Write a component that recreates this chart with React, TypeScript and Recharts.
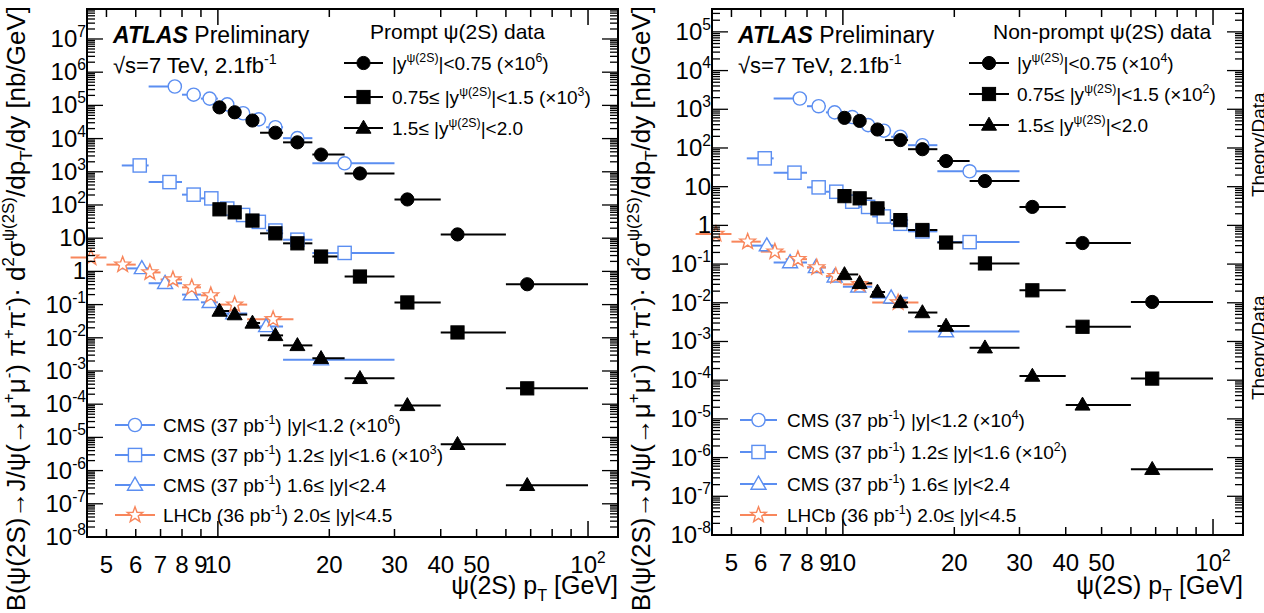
import { ScatterChart, Scatter, XAxis, YAxis, ErrorBar } from 'recharts';

const FONT = '"Liberation Sans", Arial, Helvetica, sans-serif';
const BLUE = '#5b8ef1';
const ORANGE = '#f8865b';
const BLACK = '#000';

// x axis (pT, GeV)
const X_DOMAIN = [4.43, 120.5];
const xTickValues = [5, 6, 7, 8, 9, 10, 20, 30, 40, 50, 60, 70, 80, 90, 100];
const xTickLabels = ['5', '6', '7', '8', '9', '10', '20', '30', '40', '50', '', '', '', '', '10^{2}'];

// y axis decades
const promptDecades = [-8, -7, -6, -5, -4, -3, -2, -1, 0, 1, 2, 3, 4, 5, 6, 7];
const nonpromptDecades = [-8, -7, -6, -5, -4, -3, -2, -1, 0, 1, 2, 3, 4, 5];

// ATLAS bins
const atlasBinLo = [10, 11, 12, 13, 15, 18, 22, 30, 40, 60];
const atlasBinHi = [11, 12, 13, 15, 18, 22, 30, 40, 60, 100];
const atlasPt = [10.1, 11.1, 12.4, 14.3, 16.4, 19.0, 24.2, 32.5, 44.4, 68.5];

// ATLAS prompt
const promptCentral = [8.7e4, 6.2e4, 3.5e4, 1.5e4, 7.7e3, 3.3e3, 890, 147, 13, 0.41];
const promptMid = [74, 60, 34, 14, 7, 2.8, 0.7, 0.116, 0.0145, 3.0e-4];
const promptFwd = [0.064, 0.05, 0.028, 0.0118, 5.9e-3, 2.4e-3, 6e-4, 9.2e-5, 6.2e-6, 3.6e-7];

// ATLAS non-prompt
const nonpromptCentral = [600, 500, 300, 160, 93, 46, 14, 3.0, 0.35, 0.0105];
const nonpromptMid = [5.7, 5.0, 2.75, 1.37, 0.76, 0.36, 0.104, 0.021, 2.4e-3, 1.1e-4];
const nonpromptFwd = [0.054, 0.032, 0.019, 0.0102, 5.6e-3, 2.5e-3, 6.9e-4, 1.28e-4, 2.3e-5, 5e-7];

// CMS |y|<1.2
const cmsCentralLo = [6.5, 8, 9, 10, 11, 12, 13.5, 15, 18];
const cmsCentralHi = [8, 9, 10, 11, 12, 13.5, 15, 18, 30];
const cmsCentralPt = [7.65, 8.6, 9.5, 10.6, 11.7, 12.9, 14.3, 16.4, 22];
const promptCmsCentral = [3.7e5, 2.1e5, 1.6e5, 1.07e5, 5.8e4, 3.8e4, 2.2e4, 1.03e4, 1.8e3];
const nonpromptCmsCentral = [1900, 1200, 830, 630, 390, 280, 195, 118, 25];

// CMS 1.2<|y|<1.6
const cmsMidLo = [5.5, 6.5, 8, 9, 10, 11, 12, 13.5, 15, 18];
const cmsMidHi = [6.5, 8, 9, 10, 11, 12, 13.5, 15, 18, 30];
const cmsMidPt = [6.15, 7.4, 8.6, 9.6, 10.6, 11.7, 12.9, 14.3, 16.4, 22];
const promptCmsMid = [1550, 490, 205, 158, 78, 50, 31, 17, 9, 3.6];
const nonpromptCmsMid = [54, 23, 9.6, 7.4, 4.1, 3.0, 1.7, 1.1, 0.7, 0.37];

// CMS 1.6<|y|<2.4
const cmsFwdLo = [5.5, 6.5, 8, 9, 10, 12, 15];
const cmsFwdHi = [6.5, 8, 9, 10, 12, 15, 30];
const cmsFwdPt = [6.23, 7.2, 8.45, 9.5, 11, 13.5, 19];
const promptCmsFwd = [1.23, 0.44, 0.2, 0.117, 0.054, 0.022, 0.0022];
const nonpromptCmsFwd = [0.3, 0.11, 0.082, 0.047, 0.026, 0.0135, 1.8e-3];

// LHCb 2.0<y<4.5
const lhcbLo = [4, 5, 6, 7, 8, 9, 10, 12];
const lhcbHi = [5, 6, 7, 8, 9, 10, 12, 16];
const lhcbPt = [4.54, 5.53, 6.55, 7.56, 8.5, 9.57, 11.1, 14.1];
const promptLhcb = [2.6, 1.6, 0.93, 0.57, 0.33, 0.19, 0.1, 0.036];
const nonpromptLhcb = [0.6, 0.38, 0.21, 0.134, 0.082, 0.049, 0.03, 0.0102];

const rows = (pt: number[], y: number[], lo: number[], hi: number[]) =>
  pt.map((x, i) => ({ x, y: y[i], ex: [x - lo[i], hi[i] - x] }));

type Kind = 'circle' | 'square' | 'triangle' | 'star';

function Marker({ kind, cx, cy, color, open }: { kind: Kind; cx: number; cy: number; color: string; open?: boolean }) {
  const fill = open ? '#fff' : color;
  const sw = open ? 1.4 : 1;
  if (kind === 'circle') return <circle cx={cx} cy={cy} r={6.6} fill={fill} stroke={color} strokeWidth={sw} />;
  if (kind === 'square') return <rect x={cx - 6.6} y={cy - 6.6} width={13.2} height={13.2} fill={fill} stroke={color} strokeWidth={sw} />;
  if (kind === 'triangle')
    return <path d={`M${cx},${cy - 7.8}L${cx + 7.5},${cy + 5.2}L${cx - 7.5},${cy + 5.2}Z`} fill={fill} stroke={color} strokeWidth={sw} />;
  const pts: string[] = [];
  for (let k = 0; k < 10; k++) {
    const r = k % 2 === 0 ? 8.2 : 3.4;
    const a = -Math.PI / 2 + (k * Math.PI) / 5;
    pts.push(`${cx + r * Math.cos(a)},${cy + r * Math.sin(a)}`);
  }
  return <polygon points={pts.join(' ')} fill={fill} stroke={color} strokeWidth={sw} />;
}

type Seg = { t: string; k: number };
function parse(s: string): Seg[] {
  const out: Seg[] = [];
  let buf = '';
  let i = 0;
  while (i < s.length) {
    const c = s[i];
    if ((c === '^' || c === '_') && s[i + 1] === '{') {
      if (buf) out.push({ t: buf, k: 0 });
      buf = '';
      const j = s.indexOf('}', i);
      out.push({ t: s.slice(i + 2, j), k: c === '^' ? 1 : -1 });
      i = j + 1;
    } else {
      buf += c;
      i++;
    }
  }
  if (buf) out.push({ t: buf, k: 0 });
  return out;
}

function Rich({ x, y, text, size, anchor = 'start', rotate = false, family = FONT }: any) {
  let cur = 0;
  return (
    <text
      x={x}
      y={y}
      fontSize={size}
      fontFamily={family}
      textAnchor={anchor}
      fill="#000"
      style={{ whiteSpace: 'pre' }}
      transform={rotate ? `rotate(-90 ${x} ${y})` : undefined}
    >
      {parse(text).map((s, i) => {
        const target = s.k === 1 ? -0.42 * size : s.k === -1 ? 0.28 * size : 0;
        const d = target - cur;
        cur = target;
        return (
          <tspan key={i} dy={d} fontSize={s.k ? size * 0.65 : size}>
            {s.t}
          </tspan>
        );
      })}
    </text>
  );
}

const logTicks = (decades: number[], max: number) => {
  const t: number[] = [];
  decades.forEach((e) => {
    for (let m = 1; m <= 9; m++) {
      const v = m * Math.pow(10, e);
      if (v <= max) t.push(v);
    }
  });
  return t;
};

const yLabel = (v: number) => {
  const e = Math.round(Math.log10(v));
  if (Math.abs(v / Math.pow(10, e) - 1) > 1e-6) return '';
  if (e === 0) return '1';
  if (e === 1) return '10';
  return `10^{${e}}`;
};

const makeXTick = (top: number) => (props: any) => {
  const { x, y, payload } = props;
  const v = payload.value;
  const idx = xTickValues.indexOf(v);
  const major = v === 10 || v === 100;
  const len = major ? 16 : 8;
  const label = idx >= 0 ? xTickLabels[idx] : '';
  return (
    <g>
      <line x1={x} x2={x} y1={y} y2={y - len} stroke="#000" strokeWidth={1.5} />
      <line x1={x} x2={x} y1={top} y2={top + len} stroke="#000" strokeWidth={1.5} />
      {label && <Rich x={x} y={y + 36} text={label} size={24} anchor="middle" />}
    </g>
  );
};

const makeYTick = (right: number) => (props: any) => {
  const { x, y, payload } = props;
  const label = yLabel(payload.value);
  const len = label ? 16 : 8;
  return (
    <g>
      <line x1={x} x2={x + len} y1={y} y2={y} stroke="#000" strokeWidth={1.3} />
      <line x1={right} x2={right - len} y1={y} y2={y} stroke="#000" strokeWidth={1.3} />
      {label && <Rich x={x - 1} y={y + 8} text={label} size={24} anchor="end" />}
    </g>
  );
};

type Series = { name: string; data: any[]; kind: Kind; color: string; open?: boolean };

function Panel({ width, yAxisWidth, marginRight, xAxisHeight, yMax, decades, series }: any) {
  const right = width - marginRight;
  return (
    <ScatterChart width={width} height={613} margin={{ top: 9, right: marginRight, bottom: 0, left: 0 }}>
      <XAxis
        type="number"
        dataKey="x"
        scale="log"
        domain={X_DOMAIN}
        allowDataOverflow
        ticks={xTickValues}
        interval={0}
        tickSize={0}
        tickMargin={0}
        height={xAxisHeight}
        tickLine={false}
        axisLine={false}
        tick={makeXTick(9)}
      />
      <YAxis
        type="number"
        dataKey="y"
        scale="log"
        domain={[1e-8, yMax]}
        allowDataOverflow
        ticks={logTicks(decades, yMax)}
        interval={0}
        tickSize={0}
        tickMargin={0}
        width={yAxisWidth}
        tickLine={false}
        axisLine={false}
        tick={makeYTick(right)}
      />
      {series.map((s: Series) => (
        <Scatter
          key={s.name}
          name={s.name}
          data={s.data}
          isAnimationActive={false}
          shape={(p: any) => <Marker kind={s.kind} cx={p.cx} cy={p.cy} color={s.color} open={s.open} />}
        >
          <ErrorBar dataKey="ex" direction="x" width={0} stroke={s.color} strokeWidth={2} />
        </Scatter>
      ))}
    </ScatterChart>
  );
}

const promptSeries: Series[] = [
  { name: 'cms0', data: rows(cmsCentralPt, promptCmsCentral, cmsCentralLo, cmsCentralHi), kind: 'circle', color: BLUE, open: true },
  { name: 'cms1', data: rows(cmsMidPt, promptCmsMid, cmsMidLo, cmsMidHi), kind: 'square', color: BLUE, open: true },
  { name: 'cms2', data: rows(cmsFwdPt, promptCmsFwd, cmsFwdLo, cmsFwdHi), kind: 'triangle', color: BLUE, open: true },
  { name: 'lhcb', data: rows(lhcbPt, promptLhcb, lhcbLo, lhcbHi), kind: 'star', color: ORANGE, open: true },
  { name: 'atlas0', data: rows(atlasPt, promptCentral, atlasBinLo, atlasBinHi), kind: 'circle', color: BLACK },
  { name: 'atlas1', data: rows(atlasPt, promptMid, atlasBinLo, atlasBinHi), kind: 'square', color: BLACK },
  { name: 'atlas2', data: rows(atlasPt, promptFwd, atlasBinLo, atlasBinHi), kind: 'triangle', color: BLACK },
];

const nonpromptSeries: Series[] = [
  { name: 'cms0', data: rows(cmsCentralPt, nonpromptCmsCentral, cmsCentralLo, cmsCentralHi), kind: 'circle', color: BLUE, open: true },
  { name: 'cms1', data: rows(cmsMidPt, nonpromptCmsMid, cmsMidLo, cmsMidHi), kind: 'square', color: BLUE, open: true },
  { name: 'cms2', data: rows(cmsFwdPt, nonpromptCmsFwd, cmsFwdLo, cmsFwdHi), kind: 'triangle', color: BLUE, open: true },
  { name: 'lhcb', data: rows(lhcbPt, nonpromptLhcb, lhcbLo, lhcbHi), kind: 'star', color: ORANGE, open: true },
  { name: 'atlas0', data: rows(atlasPt, nonpromptCentral, atlasBinLo, atlasBinHi), kind: 'circle', color: BLACK },
  { name: 'atlas1', data: rows(atlasPt, nonpromptMid, atlasBinLo, atlasBinHi), kind: 'square', color: BLACK },
  { name: 'atlas2', data: rows(atlasPt, nonpromptFwd, atlasBinLo, atlasBinHi), kind: 'triangle', color: BLACK },
];

const Y_TITLE = 'B(ψ(2S)→J/ψ(→μ^{+}μ^{-}) π^{+}π^{-})· d^{2}σ^{ψ(2S)}/dp_{T}/dy [nb/GeV]';
const X_TITLE = 'ψ(2S) p_{T} [GeV]';

function LegendRow({ x1, x2, y, kind, color, open, text, tx }: any) {
  return (
    <g>
      <line x1={x1} x2={x2} y1={y} y2={y} stroke={color} strokeWidth={2} />
      <Marker kind={kind} cx={(x1 + x2) / 2} cy={y} color={color} open={open} />
      <Rich x={tx} y={y + 7} text={text} size={19} />
    </g>
  );
}

function Annotations({ ox, plotW, plotH, title, factors, rowsTop, rowsBot, lt, lb, yTitleX }: any) {
  return (
    <g>
      <rect x={ox} y={9} width={plotW} height={plotH} fill="none" stroke="#000" strokeWidth={2} />
      <Rich x={yTitleX} y={6} text={Y_TITLE} size={26} anchor="end" rotate />
      <Rich x={ox + plotW} y={594} text={X_TITLE} size={25} anchor="end" />
      <text x={ox + 26} y={43} fontFamily={FONT} fontSize={23}>
        <tspan fontWeight="bold" fontStyle="italic">ATLAS</tspan>
        <tspan> Preliminary</tspan>
      </text>
      <Rich x={ox + 26} y={73} text="√s=7 TeV, 2.1fb^{-1}" size={22} />
      <Rich x={lt.head} y={39} text={title} size={21} />
      <LegendRow x1={lt.x1} x2={lt.x2} y={rowsTop[0]} kind="circle" color={BLACK} tx={lt.tx} text={`|y^{ψ(2S)}|<0.75 (×10^{${factors[0]}})`} />
      <LegendRow x1={lt.x1} x2={lt.x2} y={rowsTop[1]} kind="square" color={BLACK} tx={lt.tx} text={`0.75≤ |y^{ψ(2S)}|<1.5 (×10^{${factors[1]}})`} />
      <LegendRow x1={lt.x1} x2={lt.x2} y={rowsTop[2]} kind="triangle" color={BLACK} tx={lt.tx} text="1.5≤ |y^{ψ(2S)}|<2.0" />
      <LegendRow x1={lb.x1} x2={lb.x2} y={rowsBot[0]} kind="circle" color={BLUE} open tx={lb.tx} text={`CMS (37 pb^{-1}) |y|<1.2 (×10^{${factors[0]}})`} />
      <LegendRow x1={lb.x1} x2={lb.x2} y={rowsBot[1]} kind="square" color={BLUE} open tx={lb.tx} text={`CMS (37 pb^{-1}) 1.2≤ |y|<1.6 (×10^{${factors[1]}})`} />
      <LegendRow x1={lb.x1} x2={lb.x2} y={rowsBot[2]} kind="triangle" color={BLUE} open tx={lb.tx} text="CMS (37 pb^{-1}) 1.6≤ |y|<2.4" />
      <LegendRow x1={lb.x1} x2={lb.x2} y={rowsBot[3]} kind="star" color={ORANGE} open tx={lb.tx} text="LHCb (36 pb^{-1}) 2.0≤ |y|<4.5" />
    </g>
  );
}

export default function App() {
  return (
    <div style={{ position: 'absolute', left: 0, top: 0, width: 1264, height: 613, background: '#fff', overflow: 'hidden' }}>
      <div style={{ position: 'absolute', left: 0, top: 0 }}>
        <Panel width={630} yAxisWidth={87} marginRight={12} xAxisHeight={76} yMax={8e7} decades={promptDecades} series={promptSeries} />
      </div>
      <div style={{ position: 'absolute', left: 630, top: 0 }}>
        <Panel width={634} yAxisWidth={82} marginRight={21} xAxisHeight={78} yMax={3.9e5} decades={nonpromptDecades} series={nonpromptSeries} />
      </div>
      <svg width={1264} height={613} style={{ position: 'absolute', left: 0, top: 0, pointerEvents: 'none' }}>
        <Annotations
          ox={87}
          plotW={531}
          plotH={528}
          title="Prompt ψ(2S) data"
          factors={[6, 3]}
          rowsTop={[63, 97, 128]}
          rowsBot={[425, 455, 485, 515]}
          lt={{ head: 370, x1: 344, x2: 383, tx: 392 }}
          lb={{ x1: 115, x2: 155, tx: 163 }}
          yTitleX={25}
        />
        <Annotations
          ox={712}
          plotW={531}
          plotH={526}
          title="Non-prompt ψ(2S) data"
          factors={[4, 2]}
          rowsTop={[63, 94, 125]}
          rowsBot={[420, 452, 484, 515]}
          lt={{ head: 993, x1: 969, x2: 1009, tx: 1017 }}
          lb={{ x1: 740, x2: 777, tx: 787 }}
          yTitleX={650}
        />
        <Rich x={1265} y={197} text="Theory/Data" size={19} rotate />
        <Rich x={1265} y={400} text="Theory/Data" size={19} rotate />
      </svg>
    </div>
  );
}
